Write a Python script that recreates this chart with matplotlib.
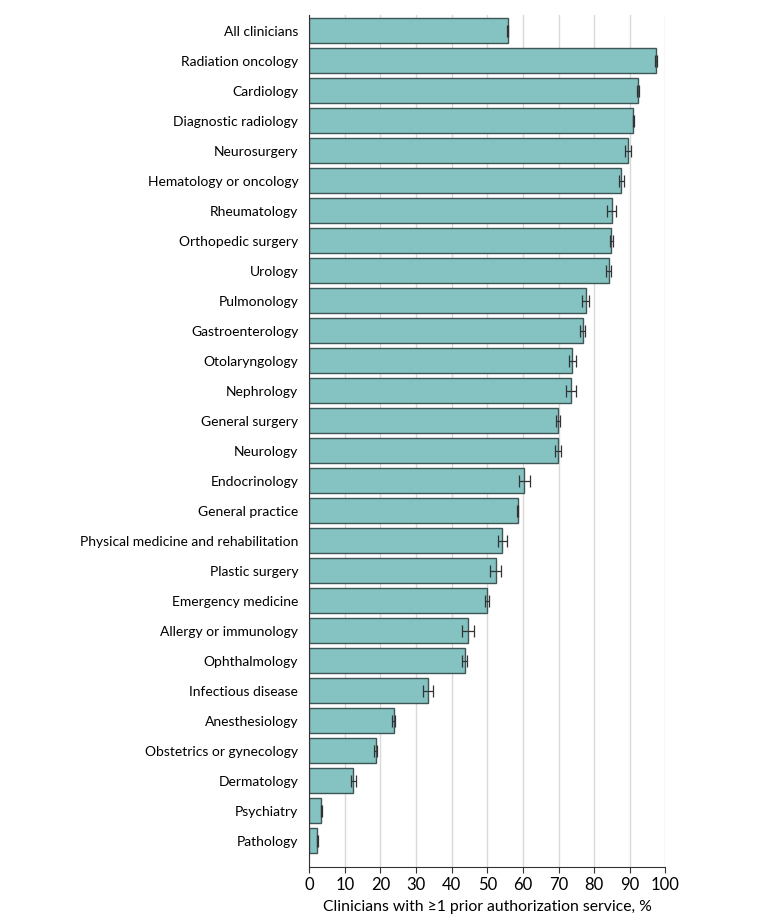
import matplotlib
matplotlib.use("Agg")
import matplotlib.pyplot as plt

plt.rcParams['font.family'] = ['Lato', 'DejaVu Sans']

specialties = ["All clinicians", "Radiation oncology", "Cardiology", "Diagnostic radiology",
               "Neurosurgery", "Hematology or oncology", "Rheumatology", "Orthopedic surgery",
               "Urology", "Pulmonology", "Gastroenterology", "Otolaryngology", "Nephrology",
               "General surgery", "Neurology", "Endocrinology", "General practice",
               "Physical medicine and rehabilitation", "Plastic surgery", "Emergency medicine",
               "Allergy or immunology", "Ophthalmology", "Infectious disease", "Anesthesiology",
               "Obstetrics or gynecology", "Dermatology", "Psychiatry", "Pathology"]

pct = [55.7, 97.4, 92.4, 91.0, 89.4, 87.6, 84.9, 84.8, 84.1, 77.6, 76.8, 73.9, 73.5,
       69.9, 69.9, 60.4, 58.5, 54.2, 52.4, 50.0, 44.5, 43.6, 33.4, 23.7, 18.7, 12.4, 3.4, 2.3]

ci = [0.15, 0.3, 0.25, 0.15, 0.85, 0.65, 1.3, 0.4, 0.75, 0.95, 0.75, 0.9, 1.5,
      0.5, 0.75, 1.55, 0.2, 1.2, 1.55, 0.55, 1.7, 0.75, 1.4, 0.5, 0.4, 0.6, 0.2, 0.2]

fig = plt.figure(figsize=(7.8, 9.22), dpi=100)
ax = fig.add_axes([0.3965, 0.06, 0.4565, 0.9237])

y = list(range(len(specialties)))
ax.barh(y, pct, height=0.83, color='#84c3c1', edgecolor='#3f5656', linewidth=1.0, zorder=2)
ax.errorbar(pct, y, xerr=ci, fmt='none', ecolor='#333333', elinewidth=0.9,
            capsize=4.5, capthick=0.9, zorder=3)

ax.set_ylim(27.86, -0.53)
ax.set_xlim(0, 100)
ax.set_xticks(range(0, 101, 10))
ax.set_yticks(y)
ax.set_yticklabels(specialties, fontsize=10)
ax.tick_params(axis='y', length=0, pad=8)
ax.tick_params(axis='x', length=4, width=0.8, labelsize=12, color='#333333')
ax.xaxis.grid(True, color='#d9d9d9', linewidth=1.0, zorder=0)
ax.set_axisbelow(True)
for s in ['top', 'right']:
    ax.spines[s].set_visible(False)
ax.spines['left'].set_color('#333333')
ax.spines['bottom'].set_color('#333333')
ax.set_xlabel('Clinicians with \u22651 prior authorization service, %', fontsize=11.3, labelpad=5)

fig.savefig('out.png', dpi=100)
